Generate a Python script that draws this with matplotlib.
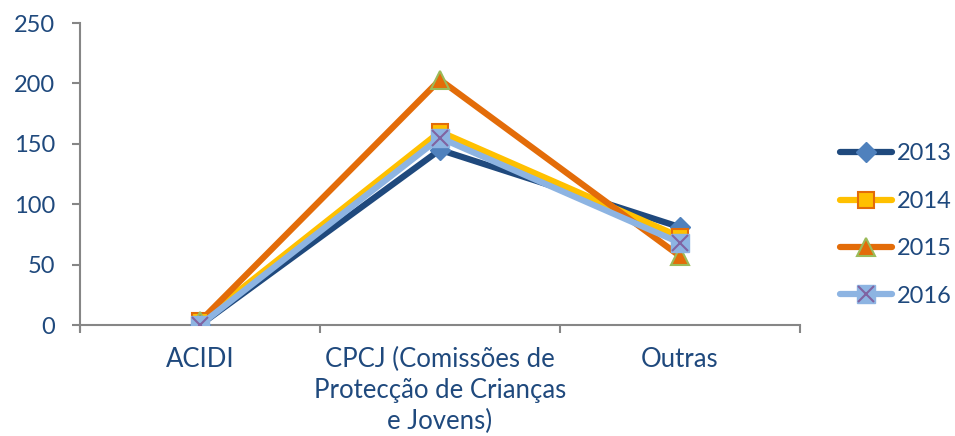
import matplotlib.pyplot as plt
from matplotlib.legend_handler import HandlerTuple

# Data
categories = ["ACIDI", "CPCJ (Comissões de\nProtecção de Crianças\ne Jovens)", "Outras"]
years = ["2013", "2014", "2015", "2016"]
v2013 = [0, 145, 81]
v2014 = [3, 160, 73]
v2015 = [3, 203, 57]
v2016 = [0, 155, 68]
y_ticks = [0, 50, 100, 150, 200, 250]

plt.rcParams['font.family'] = ['Lato', 'DejaVu Sans']
text_col = "#1F497D"
axis_col = "#868686"
fs = 17

fig = plt.figure(figsize=(9.55, 4.36), dpi=100)
ax = fig.add_axes([80 / 955, 1 - 325 / 436, 720 / 955, 302 / 436])

x = list(range(len(categories)))
handles = []

# 2013 - dark blue line, blue diamond
l, = ax.plot(x, v2013, color="#1F497D", lw=4.5, solid_capstyle="round", zorder=3)
m, = ax.plot(x, v2013, ls="none", marker="D", ms=10, color="#4F81BD", mec="#4F81BD", zorder=4)
handles.append((l, m))

# 2014 - yellow line, yellow square with orange edge
l, = ax.plot(x, v2014, color="#FFC000", lw=4.5, solid_capstyle="round", zorder=3)
m, = ax.plot(x, v2014, ls="none", marker="s", ms=12, color="#FFC000", mec="#E36C09", mew=1.5, zorder=4)
handles.append((l, m))

# 2015 - orange line, orange triangle with green edge
l, = ax.plot(x, v2015, color="#E36C09", lw=4.5, solid_capstyle="round", zorder=3)
m, = ax.plot(x, v2015, ls="none", marker="^", ms=13, color="#E36C09", mec="#9BBB59", mew=1.5, zorder=4)
handles.append((l, m))

# 2016 - light blue line, light blue square with purple x
l, = ax.plot(x, v2016, color="#8DB4E2", lw=4.5, solid_capstyle="round", zorder=5)
m, = ax.plot(x, v2016, ls="none", marker="s", ms=13, color="#8DB4E2", mec="#8DB4E2", zorder=6)
mx, = ax.plot(x, v2016, ls="none", marker="x", ms=12, color="#8064A2", mew=1.5, zorder=7)
handles.append((l, m, mx))

ax.set_xlim(-0.5, len(categories) - 0.5)
ax.set_ylim(0, 250)
ax.set_yticks(y_ticks)

# category boundaries as major ticks, labels on minor ticks
ax.set_xticks([i - 0.5 for i in range(len(categories) + 1)])
ax.set_xticklabels([])
ax.set_xticks(x, minor=True)
ax.set_xticklabels(categories, minor=True, fontsize=18.5, color=text_col, linespacing=1.3)
ax.tick_params(axis="x", which="minor", length=0, pad=16)
ax.tick_params(axis="x", which="major", length=6, color=axis_col, width=1.5)
ax.tick_params(axis="y", length=6, color=axis_col, width=1.5, labelsize=fs,
               labelcolor=text_col, pad=12)

for side in ["top", "right"]:
    ax.spines[side].set_visible(False)
for side in ["left", "bottom"]:
    ax.spines[side].set_color(axis_col)
    ax.spines[side].set_linewidth(1.5)
ax.spines["left"].set_bounds(-4, 250)

leg = fig.legend(handles, years, loc="center left", bbox_to_anchor=(831 / 955, 1 - 225 / 436),
                 frameon=False, fontsize=fs, labelspacing=1.12, handlelength=2.2,
                 handletextpad=0.2, borderaxespad=0,
                 handler_map={tuple: HandlerTuple(ndivide=1, pad=0)})
for t in leg.get_texts():
    t.set_color(text_col)

fig.savefig("out.png", dpi=100)
